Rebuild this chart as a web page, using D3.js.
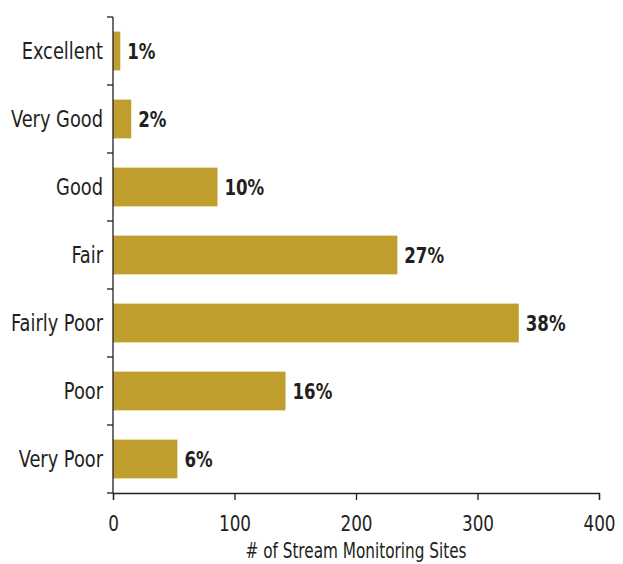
<!DOCTYPE html>
<html>
<head>
<meta charset="utf-8">
<script src="https://cdn.jsdelivr.net/npm/d3@7"></script>
<style>
  body { margin: 0; background: #fff; }
  text { font-family: "Liberation Sans Narrow", "DejaVu Sans Condensed", "Roboto Condensed", Arial, sans-serif; fill: #231f20; }
</style>
</head>
<body>
<svg id="chart" width="623" height="564"></svg>
<script>
// categories top to bottom
const categories = ["Excellent", "Very Good", "Good", "Fair", "Fairly Poor", "Poor", "Very Poor"]
// number of stream monitoring sites
const sites = [6, 15, 86, 234, 334, 142, 53]
// labels printed next to the bars
const pctLabels = ["1%", "2%", "10%", "27%", "38%", "16%", "6%"]
const xTicks = [0, 100, 200, 300, 400]

const W = 623, H = 564
const margin = { top: 17, right: 24, bottom: 71, left: 113 }
const iw = W - margin.left - margin.right
const ih = H - margin.top - margin.bottom
const ink = '#231f20'

const svg = d3.select('#chart')
const g = svg.append('g').attr('transform', `translate(${margin.left},${margin.top})`)

const x = d3.scaleLinear().domain([0, 400]).range([0, iw])
const y = d3.scaleBand().domain(categories).range([0, ih]).paddingInner(0.43).paddingOuter(0.215)

// bars
g.selectAll('rect.bar')
  .data(categories)
  .join('rect')
  .attr('class', 'bar')
  .attr('x', x(0))
  .attr('y', d => y(d))
  .attr('width', (d, i) => x(sites[i]) - x(0))
  .attr('height', y.bandwidth())
  .attr('fill', '#bf9e2e')

// value labels (squeezed a bit, the original font is condensed)
g.selectAll('text.val')
  .data(categories)
  .join('text')
  .attr('class', 'val')
  .attr('transform', (d, i) => `translate(${x(sites[i]) + 7},${y(d) + y.bandwidth() / 2}) scale(0.88,1)`)
  .attr('dy', '0.36em')
  .style('font-size', '21px')
  .style('font-weight', 'bold')
  .text((d, i) => pctLabels[i])

// category labels
g.selectAll('text.cat')
  .data(categories)
  .join('text')
  .attr('class', 'cat')
  .attr('transform', d => `translate(-10,${y(d) + y.bandwidth() / 2}) scale(0.88,1)`)
  .attr('dy', '0.36em')
  .attr('text-anchor', 'end')
  .style('font-size', '22.5px')
  .text(d => d)

// y axis line + ticks at category boundaries
const bounds = d3.range(categories.length + 1).map(i => i * y.step())
g.append('line')
  .attr('x1', 0).attr('x2', 0)
  .attr('y1', 0).attr('y2', ih)
  .attr('stroke', ink).attr('stroke-width', 1.3)
g.selectAll('line.ytick')
  .data(bounds)
  .join('line')
  .attr('class', 'ytick')
  .attr('x1', -6).attr('x2', 0)
  .attr('y1', d => d).attr('y2', d => d)
  .attr('stroke', ink).attr('stroke-width', 1.3)

// x axis
const xAxis = g.append('g')
  .attr('transform', `translate(0,${ih})`)
  .call(d3.axisBottom(x).tickValues(xTicks).tickSize(7).tickPadding(16))
xAxis.select('.domain').attr('stroke', ink).attr('stroke-width', 1.3)
xAxis.selectAll('.tick line').attr('stroke', ink).attr('stroke-width', 1.3)
xAxis.selectAll('.tick text')
  .attr('transform', 'scale(0.89,1)')
  .style('font-size', '21px')
  .style('font-family', '"Liberation Sans Narrow", "DejaVu Sans Condensed", Arial, sans-serif')
  .attr('fill', ink)

// x title
svg.append('text')
  .attr('transform', `translate(${margin.left + iw / 2},558) scale(0.79,1)`)
  .attr('text-anchor', 'middle')
  .style('font-size', '21.5px')
  .text('# of Stream Monitoring Sites')
</script>
</body>
</html>
